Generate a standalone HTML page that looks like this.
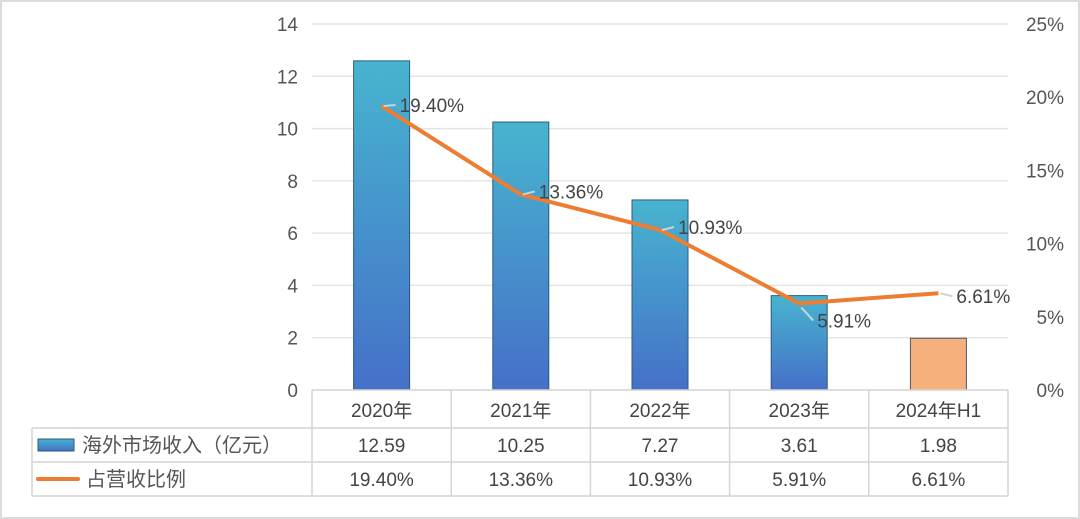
<!DOCTYPE html>
<html><head><meta charset="utf-8"><style>
html,body{margin:0;padding:0;background:#fff;}
svg{display:block;font-family:"Liberation Sans","Noto Sans CJK SC",sans-serif;}
</style></head><body>
<svg id="chart" width="1080" height="519" viewBox="0 0 1080 519">
<defs><linearGradient id="bg" x1="0" y1="0" x2="0" y2="1"><stop offset="0" stop-color="#47b4cf"/><stop offset="1" stop-color="#4570c8"/></linearGradient></defs>
<rect x="1" y="1" width="1078" height="517" fill="#fff" stroke="#dcdcdc" stroke-width="2"/>
<g id="grid"></g><g id="bars"></g><g id="line"></g><g id="axes"></g><g id="table"></g>
</svg>
<script>
const categories=["2020年","2021年","2022年","2023年","2024年H1"];
const revenue=[12.59,10.25,7.27,3.61,1.98];
const ratio=[19.40,13.36,10.93,5.91,6.61];
const leftTicks=[0,2,4,6,8,10,12,14];
const rightTicks=[0,5,10,15,20,25];
const NS="http://www.w3.org/2000/svg";
const X0=312,X1=1008,Y0=390,Y1=24;
const bw=(X1-X0)/categories.length;
const yL=v=>Y0-(v/14)*(Y0-Y1);
const yR=v=>Y0-(v/25)*(Y0-Y1);
const xC=i=>X0+bw*(i+0.5);
function el(t,a,p,txt){const e=document.createElementNS(NS,t);for(const k in a)e.setAttribute(k,a[k]);if(txt!==undefined)e.textContent=txt;document.getElementById(p).appendChild(e);return e;}
leftTicks.forEach(v=>{
  if(v>0){const g=el('line',{x1:X0,x2:X1,y1:yL(v),y2:yL(v),stroke:'#e4e4e4','stroke-width':1.5},'grid');
  
  }
  const t=el('text',{x:298,y:yL(v)+7,'text-anchor':'end','font-size':19,fill:'#555'},'axes',v);
  
  
});
rightTicks.forEach(v=>{
  const t=el('text',{x:1064,y:yR(v)+7,'text-anchor':'end','font-size':19,fill:'#555'},'axes',v+'%');
  
  
});
revenue.forEach((v,i)=>{
  const last=i===revenue.length-1;
  const r=el('rect',{x:xC(i)-28,y:yL(v),width:56,height:Y0-yL(v),fill:last?'#f5b07c':'url(#bg)',stroke:last?'#4a5a66':'#2f5a7a','stroke-width':1},'bars');
  
  
});
const pts=ratio.map((v,i)=>xC(i)+','+yR(v)).join(' ');
const pl=el('polyline',{points:pts,fill:'none',stroke:'#ed7d31','stroke-width':4,'stroke-linejoin':'round'},'line');


const off=[[10,4],[10,2],[10,2],[10,22],[10,8]];
ratio.forEach((v,i)=>{
  const x=xC(i)+off[i][0]+8,y=yR(v)+off[i][1]+2;
  const c=el('line',{x1:xC(i)+2,y1:yR(v)+(i==3?4:0),x2:x-4,y2:y-7,stroke:'#c8d4dc','stroke-width':2},'line');
  
  
  const t=el('text',{x:x,y:y,'font-size':19,fill:'#444'},'line',v.toFixed(2)+'%');
  
  
});
// table
const rows=[390,428,462,496];
const tl=(a)=>{const l=el('line',Object.assign({stroke:'#d4d4d4','stroke-width':1.5},a),'table');};
tl({x1:X0,x2:X1,y1:390,y2:390});
[428,462,496].forEach(y=>tl({x1:32,x2:X1,y1:y,y2:y}));
tl({x1:32,x2:32,y1:428,y2:496});
for(let i=0;i<=categories.length;i++)tl({x1:X0+bw*i,x2:X0+bw*i,y1:390,y2:496});
categories.forEach((c,i)=>{
  const t=el('text',{x:xC(i),y:417,'text-anchor':'middle','font-size':19,fill:'#444'},'table',c);
  
  
  const a=el('text',{x:xC(i),y:452,'text-anchor':'middle','font-size':19,fill:'#444'},'table',revenue[i].toFixed(2));
  
  
  const b=el('text',{x:xC(i),y:486,'text-anchor':'middle','font-size':19,fill:'#444'},'table',ratio[i].toFixed(2)+'%');
  
  
});
const lk1=el('rect',{x:38,y:439,width:36,height:12,fill:'url(#bg)',stroke:'#2f5a7a'},'table');


const lt1=el('text',{x:82,y:452,'font-size':20,fill:'#555'},'table','海外市场收入（亿元）');


const lk2=el('line',{x1:38,x2:78,y1:479,y2:479,stroke:'#ed7d31','stroke-width':4,'stroke-linecap':'round'},'table');


const lt2=el('text',{x:86,y:486,'font-size':20,fill:'#555'},'table','占营收比例');


</script>
</body></html>
